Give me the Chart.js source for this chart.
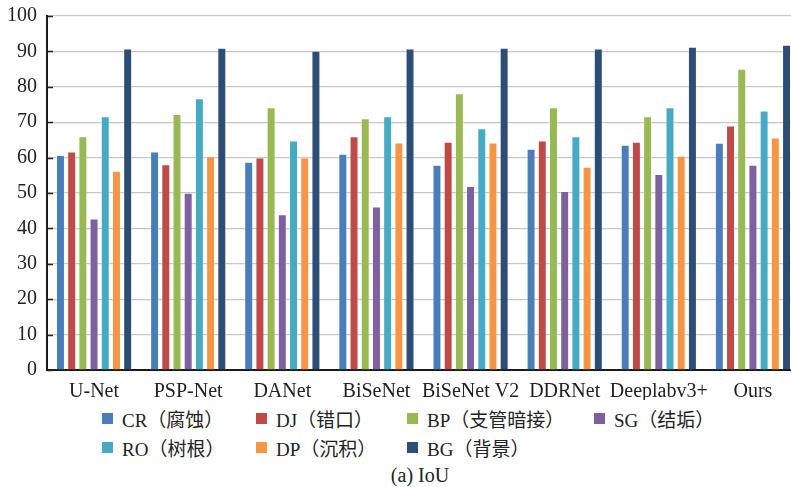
<!DOCTYPE html>
<html>
<head>
<meta charset="utf-8">
<script src="https://cdn.jsdelivr.net/npm/chart.js@4/dist/chart.umd.min.js"></script>
<style>
  html, body { margin: 0; padding: 0; width: 791px; height: 487px; overflow: hidden; background: #fff; }
  #wrap { position: absolute; left: 0; top: -6px; width: 800px; height: 406px; }
  #legend {
    position: absolute; left: 102px; top: 404px;
    display: grid; grid-template-columns: 154px 151px 187px auto;
    grid-auto-rows: 29px; align-items: center;
    font-family: "Liberation Serif", "Noto Sans CJK SC", serif; font-size: 19px; color: #222;
  }
  .item { display: flex; align-items: center; white-space: nowrap; }
  .box { width: 11px; height: 11px; margin-right: 9px; flex: none; }
  #caption {
    position: absolute; left: 0; width: 840px; top: 463px; text-align: center;
    font-family: "Liberation Serif", serif; font-size: 20px; line-height: 24px; color: #222;
  }
</style>
</head>
<body>
<div id="wrap"><canvas id="chart"></canvas></div>
<div id="legend"></div>
<div id="caption">(a) IoU</div>
<script>
// Networks compared on the x axis
const categories = ['U-Net', 'PSP-Net', 'DANet', 'BiSeNet', 'BiSeNet V2', 'DDRNet', 'Deeplabv3+', 'Ours'];

// IoU (%) per defect class
const crValues = [60.7, 61.7, 58.8, 61.1, 58.0, 62.5, 63.6, 64.2];
const djValues = [61.7, 58.1, 60.0, 66.0, 64.5, 64.8, 64.5, 69.1];
const bpValues = [66.0, 72.3, 74.2, 71.1, 78.2, 74.2, 71.7, 85.1];
const sgValues = [42.8, 50.1, 44.0, 46.2, 52.0, 50.6, 55.4, 58.0];
const roValues = [71.7, 76.8, 64.8, 71.7, 68.3, 66.0, 74.2, 73.3];
const dpValues = [56.3, 60.4, 60.0, 64.3, 64.3, 57.4, 60.5, 65.7];
const bgValues = [90.8, 91.0, 90.2, 90.8, 91.0, 90.8, 91.3, 91.9];

const seriesLabels = ['CR（腐蚀）', 'DJ（错口）', 'BP（支管暗接）', 'SG（结垢）', 'RO（树根）', 'DP（沉积）', 'BG（背景）'];
const seriesValues = [crValues, djValues, bpValues, sgValues, roValues, dpValues, bgValues];
const seriesColors = ['#4A7EBB', '#BE4B48', '#98B954', '#7D60A0', '#46AAC5', '#F69546', '#2C4D75'];

// y tick range
const yMin = 0, yMax = 100, yStep = 10;

const SERIF = '"Liberation Serif", "Noto Sans CJK SC", serif';

// short tick marks pointing into the plot along the value axis
const innerTicks = {
  id: 'innerTicks',
  afterDraw(chart) {
    const { ctx, chartArea, scales: { y } } = chart;
    ctx.save();
    ctx.strokeStyle = '#222';
    ctx.lineWidth = 1.5;
    y.ticks.forEach((t, i) => {
      const py = Math.round(y.getPixelForTick(i)) + 0.5;
      ctx.beginPath();
      ctx.moveTo(chartArea.left, py);
      ctx.lineTo(chartArea.left + 6, py);
      ctx.stroke();
    });
    ctx.restore();
  }
};

const chart = new Chart(document.getElementById('chart'), {
  type: 'bar',
  data: {
    labels: categories,
    datasets: seriesLabels.map((label, i) => ({
      label,
      data: seriesValues[i],
      backgroundColor: seriesColors[i],
      borderColor: 'rgba(255,255,255,0.35)',
      borderWidth: 1,
      categoryPercentage: 0.833,
      barPercentage: 0.8
    }))
  },
  options: {
    responsive: true,
    maintainAspectRatio: false,
    animation: false,
    layout: { padding: { left: 0, right: 0, top: 10, bottom: 0 } },
    plugins: { legend: { display: false }, tooltip: { enabled: false } },
    scales: {
      x: {
        grid: { display: false },
        border: { display: true, color: '#1a1a1a', width: 2 },
        ticks: { color: '#222', font: { family: SERIF, size: 20 }, padding: 2, maxRotation: 0, autoSkip: false },
        afterFit(scale) { scale.height = 30; }
      },
      y: {
        min: yMin, max: yMax,
        grid: { color: '#C6C6C6', lineWidth: 1.2, drawTicks: false },
        border: { display: true, color: '#1a1a1a', width: 2 },
        ticks: { stepSize: yStep, color: '#222', font: { family: SERIF, size: 20 }, padding: 10 },
        afterFit(scale) { scale.width = 47; }
      }
    }
  },
  plugins: [innerTicks]
});

// two-row legend built from the datasets
const legendEl = document.getElementById('legend');
chart.data.datasets.forEach(ds => {
  const item = document.createElement('div');
  item.className = 'item';
  const box = document.createElement('span');
  box.className = 'box';
  box.style.background = ds.backgroundColor;
  const txt = document.createElement('span');
  txt.textContent = ds.label;
  item.appendChild(box);
  item.appendChild(txt);
  legendEl.appendChild(item);
});
</script>
</body>
</html>
